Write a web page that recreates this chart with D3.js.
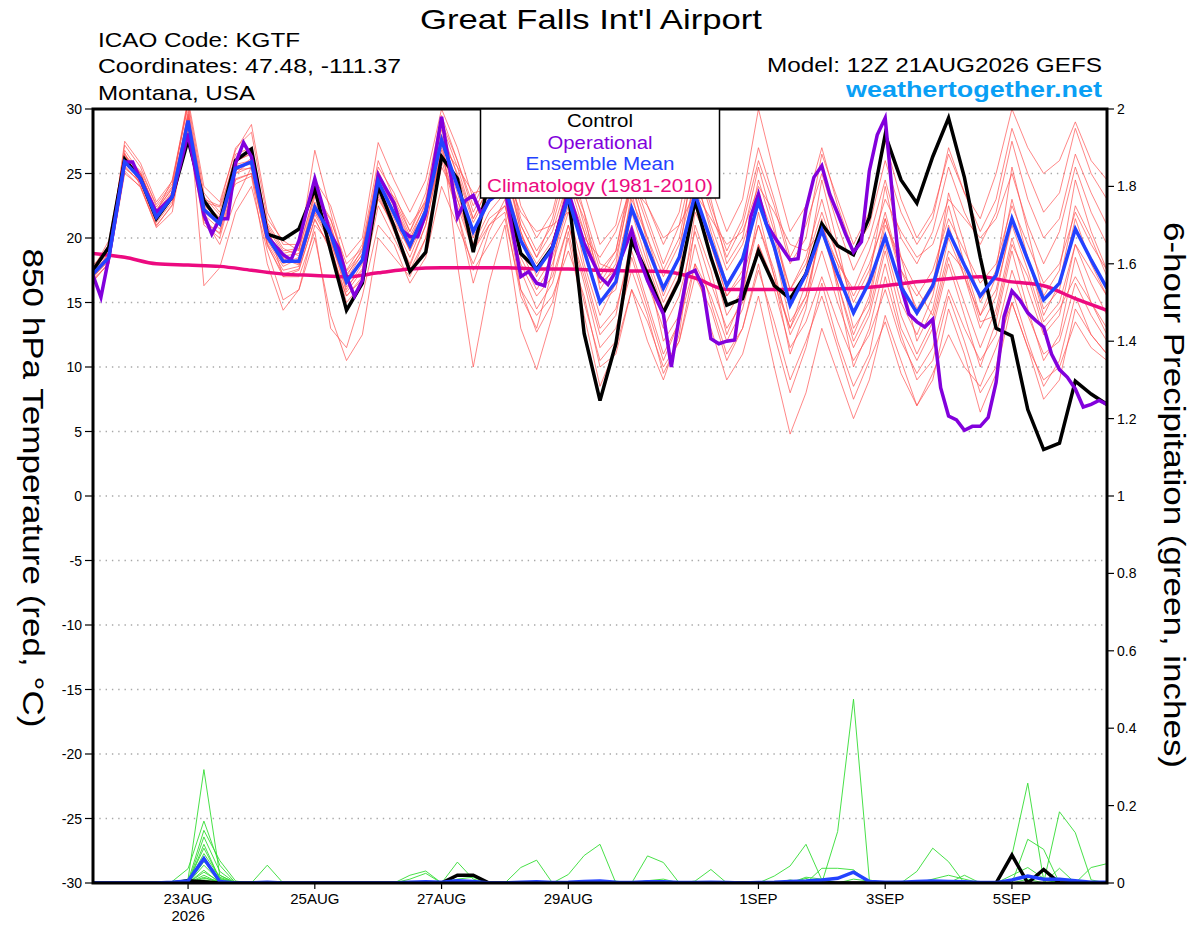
<!DOCTYPE html>
<meta charset="utf-8">
<style>
body { margin: 0; background: #fff; }
text { font-family: "Liberation Sans", Arial, Helvetica, sans-serif; }
.member { fill: none; stroke: #ff4d4d; stroke-width: 0.8px; stroke-opacity: 0.85; }
.pmember { fill: none; stroke: #33dd33; stroke-width: 0.9px; }
.grid { stroke: #a8a8a8; stroke-width: 1.3px; stroke-dasharray: 1.4,4.9; }
.thick { fill: none; stroke-width: 3.5px; stroke-linejoin: miter; }
</style>
<body>
<script src="https://d3js.org/d3.v7.min.js"></script>
<script>

// ---- data (6-hourly steps from 12Z 21AUG2026, 65 steps) ----
var runStart = Date.UTC(2026, 7, 21, 12);
var tickDates = [[2026,7,23],[2026,7,25],[2026,7,27],[2026,7,29],[2026,8,1],[2026,8,3],[2026,8,5]];
var tickLabels = ["23AUG", "25AUG", "27AUG", "29AUG", "1SEP", "3SEP", "5SEP"];
var tempTicks = [30, 25, 20, 15, 10, 5, 0, -5, -10, -15, -20, -25, -30];
var precipTicks = [0, 0.2, 0.4, 0.6, 0.8, 1, 1.2, 1.4, 1.6, 1.8, 2];

var controlTemp = [
  17.5, 19.3, 26.1, 24.6, 21.5, 23.2, 27.6, 22.9, 21.2, 26.0,
  26.9, 20.3, 19.9, 20.7, 23.8, 19.0, 14.4, 16.5, 24.0, 20.9,
  17.4, 18.9, 26.3, 24.6, 18.9, 24.5, 24.0, 18.8, 17.6, 19.3,
  23.5, 12.6, 7.4, 11.8, 19.8, 17.2, 14.2, 16.7, 22.9, 18.5,
  14.8, 15.3, 19.0, 16.3, 15.3, 17.2, 21.1, 19.4, 18.7, 21.6,
  28.0, 24.5, 22.7, 26.3, 29.3, 24.7, 18.5, 13.0, 12.4, 6.7,
  3.6, 4.1, 8.9, 7.9, 7.1];

var meanTemp = [
  17.2, 18.5, 25.9, 24.6, 21.6, 23.2, 29.1, 22.2, 21.1, 25.4,
  25.9, 20.1, 18.2, 18.2, 22.4, 20.3, 16.6, 18.3, 24.4, 21.9,
  19.4, 22.1, 27.6, 24.0, 20.5, 22.9, 24.0, 19.8, 17.5, 19.2,
  23.1, 19.0, 15.0, 16.6, 22.3, 19.2, 16.1, 18.5, 23.4, 19.8,
  16.3, 18.4, 22.8, 19.3, 14.8, 17.2, 20.6, 17.2, 14.2, 16.6,
  20.1, 16.2, 14.2, 16.3, 20.5, 17.9, 15.5, 17.1, 21.5, 18.3,
  15.2, 16.5, 20.7, 18.3, 16.1];

// operational run has 3-hourly output
var opHours = [
  0, 3, 6, 12, 15, 18, 24, 30, 36, 42, 45, 48, 51, 54, 57, 60, 66, 72, 75, 78,
  84, 90, 93, 96, 99, 102, 108, 114, 117, 120, 123, 126, 132, 138, 141, 144, 147, 150, 156, 162,
  165, 168, 171, 174, 180, 186, 192, 195, 198, 204, 207, 210, 216, 219, 222, 225, 228, 231, 234, 237,
  240, 243, 246, 249, 252, 255, 258, 261, 264, 267, 270, 273, 276, 279, 282, 285, 288, 291, 294, 297,
  300, 306, 309, 312, 315, 318, 321, 324, 327, 330, 333, 336, 339, 342, 345, 348, 351, 354, 357, 360,
  363, 366, 369, 372, 375, 378, 381, 384];
var opTemp = [
  17.1, 15.4, 18.5, 25.9, 25.9, 24.5, 22.0, 23.2, 28.1, 21.8, 20.3, 21.5, 21.5, 25.8, 27.4, 26.3, 20.1, 18.7, 18.3, 19.8,
  24.6, 20.3, 19.2, 17.0, 15.5, 16.7, 24.9, 22.7, 20.6, 20.1, 20.1, 21.9, 29.4, 21.6, 22.9, 23.3, 21.9, 22.9, 23.8, 17.0,
  17.4, 16.5, 16.3, 19.3, 23.6, 19.6, 17.0, 16.4, 17.4, 20.6, 18.4, 16.7, 14.1, 10.0, 13.9, 17.2, 17.5, 16.2, 12.2, 11.8,
  12.0, 12.1, 16.5, 21.6, 23.4, 21.1, 20.1, 19.2, 18.3, 18.4, 22.2, 24.7, 25.6, 23.4, 21.9, 20.3, 18.9, 19.7, 25.2, 28.0,
  29.3, 16.2, 14.1, 13.5, 13.1, 13.7, 8.4, 6.2, 5.9, 5.1, 5.4, 5.4, 6.1, 8.8, 13.9, 15.9, 15.2, 14.2, 13.6, 13.1,
  11.0, 9.8, 9.2, 8.3, 6.9, 7.1, 7.4, 7.1];

// climatology, 12-hourly
var climTemp = [
  18.8, 18.5, 18.0, 17.9, 17.8, 17.5, 17.2, 17.1, 17.0, 17.3,
  17.6, 17.7, 17.7, 17.7, 17.6, 17.6, 17.5, 17.45, 17.4, 16.9,
  16.0, 16.0, 16.0, 16.05, 16.1, 16.3, 16.6, 16.85, 17.0, 16.6,
  16.3, 15.3, 14.4];

var member01 = [
  17.8, 19.0, 27.2, 25.5, 22.4, 24.0, 30.5, 23.5, 22.0, 26.5,
  27.0, 21.0, 19.0, 19.2, 23.5, 21.5, 17.5, 19.5, 26.0, 23.0,
  20.5, 23.5, 29.5, 26.0, 22.0, 24.5, 26.5, 21.5, 19.0, 21.0,
  25.5, 21.0, 17.0, 19.0, 25.0, 21.5, 18.0, 21.0, 26.5, 22.5,
  19.0, 21.5, 27.0, 23.0, 18.5, 21.0, 25.0, 21.0, 17.5, 20.0,
  24.5, 20.0, 18.0, 20.5, 25.5, 22.0, 19.5, 22.0, 27.5, 23.0,
  20.0, 21.5, 26.5, 23.5, 21.0];
var member02 = [
  16.8, 18.0, 25.0, 24.0, 21.0, 22.5, 28.0, 21.0, 20.0, 24.5,
  25.0, 19.5, 17.0, 17.5, 21.5, 19.0, 15.5, 17.0, 23.5, 20.5,
  18.0, 21.0, 26.5, 22.5, 19.0, 21.0, 22.5, 18.0, 15.5, 17.0,
  21.0, 17.0, 12.5, 14.0, 20.0, 16.5, 13.0, 15.5, 20.5, 16.5,
  13.0, 15.0, 19.5, 16.0, 11.5, 13.5, 17.0, 13.5, 10.5, 12.5,
  16.0, 12.0, 9.5, 11.5, 16.0, 13.0, 10.5, 12.5, 17.5, 14.0,
  11.0, 12.0, 16.5, 14.0, 12.0];
var member03 = [
  17.5, 19.5, 26.5, 25.0, 22.0, 24.5, 30.5, 16.3, 17.7, 22.0,
  24.0, 19.0, 15.2, 16.0, 20.0, 14.0, 10.5, 12.5, 20.0, 18.5,
  17.0, 20.0, 25.5, 23.0, 19.5, 23.0, 25.5, 20.5, 17.0, 19.5,
  24.0, 18.0, 14.0, 16.5, 23.5, 18.5, 15.0, 17.5, 25.0, 20.5,
  16.5, 18.5, 24.5, 20.5, 16.0, 18.5, 23.0, 18.5, 15.0, 17.5,
  22.0, 17.5, 14.5, 16.5, 22.5, 18.0, 14.0, 17.0, 23.0, 18.5,
  14.5, 16.0, 21.5, 18.0, 15.5];
var member04 = [
  17.0, 18.2, 26.0, 24.8, 21.8, 23.5, 29.5, 22.5, 21.5, 25.0,
  26.0, 20.5, 18.5, 18.0, 22.5, 20.0, 16.0, 18.0, 25.0, 22.0,
  19.0, 21.5, 28.0, 18.0, 10.0, 16.5, 21.0, 13.0, 9.8, 14.0,
  20.5, 15.0, 10.5, 12.0, 18.5, 14.5, 10.5, 13.5, 19.5, 15.0,
  11.0, 13.0, 18.0, 12.5, 8.0, 11.5, 16.5, 12.0, 8.5, 11.0,
  17.0, 12.5, 9.0, 10.5, 15.5, 12.0, 8.0, 10.0, 16.0, 12.0,
  8.5, 10.5, 15.5, 12.5, 11.0];
var member05 = [
  17.6, 18.8, 26.3, 25.2, 22.6, 24.2, 30.8, 24.0, 22.8, 26.8,
  28.8, 22.0, 19.5, 19.5, 24.5, 22.5, 18.5, 20.0, 27.4, 24.5,
  22.0, 24.5, 30.0, 27.0, 23.0, 25.5, 28.0, 22.5, 20.0, 22.0,
  27.0, 23.5, 19.5, 21.0, 26.5, 22.5, 19.5, 22.0, 28.0, 24.0,
  20.5, 23.0, 30.0, 25.0, 20.5, 22.5, 27.0, 22.5, 19.0, 21.0,
  26.0, 22.0, 19.5, 21.5, 27.0, 23.5, 20.5, 23.0, 28.5, 25.0,
  22.0, 23.5, 28.5, 25.0, 23.0];
var member06 = [
  16.9, 18.4, 25.6, 24.2, 21.2, 22.8, 28.6, 21.8, 20.7, 25.0,
  25.5, 19.6, 17.5, 17.8, 22.0, 19.8, 15.8, 17.5, 23.0, 21.0,
  18.5, 21.5, 27.0, 23.5, 19.5, 22.0, 23.5, 18.5, 16.0, 18.0,
  22.0, 17.5, 13.0, 14.5, 19.0, 15.0, 11.0, 13.5, 18.0, 13.0,
  9.0, 11.0, 15.5, 10.0, 4.8, 8.0, 13.0, 9.5, 6.0, 9.0,
  14.0, 10.5, 7.0, 9.0, 14.5, 11.0, 6.5, 9.5, 15.0, 11.5,
  7.5, 9.0, 14.5, 12.5, 11.0];
var member07 = [
  17.3, 18.6, 26.0, 24.5, 21.4, 23.0, 29.3, 22.0, 21.0, 25.2,
  26.2, 20.0, 18.0, 18.5, 22.8, 20.5, 16.8, 18.8, 24.8, 22.4,
  19.8, 22.8, 28.4, 24.8, 21.2, 23.5, 24.5, 20.2, 18.0, 19.8,
  23.5, 20.5, 16.5, 17.5, 23.0, 20.0, 17.0, 19.5, 24.5, 21.0,
  17.5, 19.5, 23.5, 20.0, 16.0, 18.0, 22.0, 18.5, 15.5, 18.0,
  21.5, 17.5, 15.5, 17.5, 21.5, 19.0, 16.5, 18.0, 22.5, 19.5,
  16.5, 18.0, 22.0, 19.5, 17.5];
var member08 = [
  17.1, 18.3, 25.5, 24.3, 21.5, 23.4, 29.0, 22.6, 21.3, 25.6,
  25.7, 20.2, 18.4, 17.9, 22.0, 20.2, 16.2, 17.6, 24.0, 21.5,
  19.0, 22.5, 27.8, 24.2, 20.0, 23.0, 24.0, 19.0, 16.5, 18.5,
  22.5, 19.5, 15.0, 16.0, 22.0, 18.0, 14.5, 17.0, 22.5, 18.5,
  14.0, 16.0, 21.0, 17.5, 12.5, 15.0, 19.0, 15.0, 11.5, 14.0,
  19.0, 14.0, 11.0, 13.5, 18.5, 15.0, 11.5, 14.5, 20.0, 16.0,
  12.5, 14.0, 19.5, 16.5, 14.0];
var member09 = [
  17.4, 18.7, 26.2, 24.9, 21.9, 23.3, 29.8, 22.4, 21.0, 25.7,
  26.0, 20.4, 18.6, 18.8, 22.6, 20.8, 17.2, 18.7, 24.6, 22.8,
  20.2, 22.6, 28.0, 25.0, 21.5, 24.0, 25.5, 21.0, 18.5, 20.5,
  24.5, 21.5, 17.5, 19.0, 24.5, 21.0, 17.5, 20.0, 26.0, 22.0,
  18.5, 21.0, 26.0, 22.5, 18.0, 20.0, 26.5, 23.0, 19.5, 22.0,
  27.5, 23.0, 20.0, 22.0, 26.5, 23.5, 21.5, 25.0, 30.0, 27.0,
  25.0, 26.0, 29.0, 26.0, 24.5];
var member10 = [
  16.7, 18.0, 25.2, 23.9, 20.9, 22.6, 28.4, 21.4, 20.3, 24.6,
  25.0, 19.4, 17.2, 17.6, 21.4, 19.2, 15.5, 16.8, 23.2, 20.8,
  17.8, 21.0, 26.8, 23.0, 19.0, 21.5, 22.5, 17.5, 14.5, 16.5,
  21.0, 16.5, 11.5, 13.0, 17.5, 14.0, 9.5, 12.0, 17.0, 14.5,
  10.5, 13.0, 17.5, 13.5, 9.0, 12.0, 15.5, 11.5, 7.5, 10.5,
  13.5, 9.5, 7.0, 9.5, 12.5, 10.0, 8.5, 11.5, 15.0, 11.5,
  9.0, 10.0, 13.5, 11.5, 10.5];
var member11 = [
  17.3, 18.5, 27.5, 25.8, 22.8, 24.4, 30.2, 23.0, 22.5, 27.0,
  28.2, 21.5, 19.8, 19.0, 26.8, 22.0, 17.4, 19.0, 25.5, 23.5,
  20.5, 23.0, 29.0, 26.0, 22.5, 25.0, 27.0, 21.0, 18.5, 21.5,
  26.5, 22.0, 16.0, 18.0, 24.5, 19.5, 15.5, 18.5, 27.5, 23.0,
  18.0, 20.0, 25.5, 21.0, 15.0, 17.5, 24.5, 19.5, 14.0, 17.0,
  24.0, 18.5, 14.0, 16.0, 23.5, 19.5, 15.0, 17.5, 25.5, 20.5,
  15.5, 17.5, 24.5, 20.5, 17.5];
var member12 = [
  17.9, 19.2, 26.8, 25.0, 22.0, 23.6, 29.6, 23.2, 21.8, 24.2,
  24.8, 18.0, 14.4, 16.0, 21.0, 19.5, 15.0, 16.5, 22.5, 20.0,
  17.5, 20.0, 26.0, 22.0, 16.5, 20.5, 23.0, 16.0, 12.7, 15.0,
  20.0, 14.0, 8.5, 11.5, 16.0, 12.0, 9.0, 12.5, 21.0, 17.5,
  12.5, 15.5, 22.0, 17.0, 11.0, 14.5, 21.5, 16.0, 10.0, 13.0,
  18.0, 13.0, 10.5, 13.0, 18.0, 14.0, 10.0, 13.5, 19.0, 14.5,
  10.5, 12.5, 18.5, 15.0, 13.0];
var member13 = [
  17.6, 19.8, 26.6, 24.0, 20.8, 22.0, 29.0, 21.5, 19.5, 23.0,
  25.5, 21.0, 17.0, 17.0, 20.5, 13.0, 11.5, 15.5, 21.0, 19.5,
  16.5, 18.5, 24.0, 21.0, 18.0, 21.0, 22.0, 15.5, 13.0, 17.5,
  25.0, 22.0, 18.0, 17.5, 21.0, 17.5, 12.0, 14.0, 22.0, 19.5,
  15.5, 17.5, 23.0, 19.0, 13.5, 15.5, 21.0, 18.0, 13.0, 15.0,
  21.0, 18.5, 16.0, 14.0, 19.0, 17.5, 13.5, 14.0, 19.5, 17.0,
  13.0, 14.5, 17.0, 15.0, 12.5];
var member14 = [
  17.0, 18.9, 25.8, 25.0, 22.2, 23.8, 29.2, 22.8, 22.4, 26.0,
  26.5, 21.2, 19.2, 18.6, 23.2, 21.4, 18.0, 19.2, 24.2, 23.2,
  21.0, 22.8, 27.2, 25.5, 23.5, 23.8, 25.0, 22.0, 20.5, 21.0,
  22.0, 20.0, 18.5, 20.5, 24.0, 22.5, 20.0, 21.0, 23.5, 21.5,
  19.5, 20.5, 24.0, 22.0, 19.5, 19.0, 20.5, 18.0, 16.0, 19.0,
  23.0, 20.5, 18.5, 19.5, 23.0, 21.5, 20.0, 21.5, 25.0, 21.0,
  18.0, 20.5, 25.5, 22.0, 19.5];
var member15 = [
  16.6, 18.1, 25.4, 24.4, 21.6, 23.0, 28.8, 21.2, 20.4, 25.3,
  25.4, 19.8, 17.8, 18.4, 21.8, 19.6, 16.5, 18.2, 23.8, 21.2,
  19.2, 21.8, 26.5, 22.0, 17.5, 19.5, 21.5, 16.0, 14.0, 15.5,
  19.0, 15.5, 10.0, 11.0, 16.0, 13.5, 10.0, 12.0, 18.0, 15.5,
  12.0, 14.5, 19.5, 16.5, 13.0, 15.5, 20.5, 16.5, 12.5, 15.5,
  21.5, 17.0, 12.0, 14.5, 20.0, 17.0, 13.0, 15.5, 21.5, 18.5,
  14.0, 16.5, 22.5, 20.0, 17.0];
var member16 = [
  17.7, 19.1, 26.4, 25.0, 22.1, 23.9, 29.4, 22.7, 21.6, 25.9,
  26.6, 20.8, 18.8, 19.1, 23.4, 21.0, 17.0, 19.2, 25.2, 22.5,
  20.0, 22.0, 28.8, 25.5, 21.5, 24.0, 26.0, 20.5, 17.5, 19.5,
  24.5, 20.5, 16.5, 18.5, 24.0, 20.0, 16.0, 18.5, 23.0, 19.5,
  15.5, 17.0, 21.0, 17.0, 13.0, 16.5, 21.0, 16.5, 12.0, 14.5,
  19.5, 15.0, 12.5, 15.5, 21.0, 17.0, 14.0, 16.0, 21.0, 17.5,
  13.5, 15.0, 19.5, 17.5, 15.5];

// 6-hour precipitation (inches)
var controlPrecip = [
  0, 0, 0, 0, 0, 0, 0.006, 0.003, 0, 0,
  0, 0, 0, 0, 0, 0, 0, 0, 0, 0,
  0, 0, 0, 0.02, 0.02, 0, 0, 0, 0, 0,
  0, 0, 0, 0, 0, 0, 0, 0, 0, 0,
  0, 0, 0, 0, 0, 0, 0, 0, 0, 0,
  0, 0, 0, 0, 0, 0, 0, 0, 0.072, 0,
  0.035, 0, 0, 0, 0];
var meanPrecip = [
  0, 0, 0, 0, 0, 0.002, 0.005, 0.063, 0.004, 0,
  0, 0.002, 0, 0, 0, 0, 0, 0, 0, 0,
  0.002, 0.003, 0.002, 0.006, 0.004, 0, 0, 0.002, 0.003, 0.001,
  0.002, 0.004, 0.005, 0.002, 0.001, 0.003, 0.003, 0.001, 0.001, 0.002,
  0.001, 0, 0.001, 0.002, 0.004, 0.005, 0.008, 0.012, 0.028, 0.004,
  0.002, 0.002, 0.004, 0.005, 0.004, 0.003, 0.001, 0.001, 0.008, 0.018,
  0.01, 0.01, 0.006, 0.002, 0.002];
var precip01 = [
  0, 0, 0, 0, 0, 0, 0.01, 0.293, 0.02, 0,
  0, 0, 0, 0, 0, 0, 0, 0, 0, 0,
  0, 0, 0, 0, 0, 0, 0, 0, 0, 0,
  0, 0, 0, 0, 0, 0, 0, 0, 0, 0,
  0, 0, 0, 0, 0, 0, 0, 0, 0, 0,
  0, 0, 0, 0, 0, 0, 0, 0, 0, 0,
  0, 0, 0, 0, 0];
var precip02 = [
  0, 0, 0, 0, 0, 0.004, 0.037, 0.16, 0.046, 0,
  0, 0.046, 0, 0, 0, 0, 0, 0, 0, 0,
  0, 0, 0, 0, 0, 0, 0, 0, 0, 0,
  0, 0, 0, 0, 0, 0, 0, 0, 0, 0,
  0, 0, 0, 0, 0, 0, 0, 0, 0, 0,
  0, 0, 0, 0, 0, 0, 0, 0, 0, 0,
  0, 0, 0, 0, 0];
var precip03 = [
  0, 0, 0, 0, 0, 0, 0.005, 0.136, 0.058, 0.005,
  0, 0, 0, 0, 0, 0, 0, 0, 0, 0,
  0, 0, 0, 0, 0, 0, 0, 0.04, 0.059, 0,
  0, 0, 0, 0, 0, 0, 0, 0, 0, 0,
  0, 0, 0, 0, 0, 0, 0, 0, 0, 0,
  0, 0, 0, 0, 0, 0, 0, 0, 0, 0,
  0, 0, 0, 0, 0];
var precip04 = [
  0, 0, 0, 0, 0, 0, 0, 0.119, 0.03, 0,
  0, 0, 0, 0, 0, 0, 0, 0, 0, 0,
  0.02, 0.031, 0, 0, 0, 0, 0, 0, 0, 0,
  0.022, 0.071, 0.1, 0, 0, 0, 0, 0, 0, 0,
  0, 0, 0, 0, 0, 0, 0, 0, 0, 0,
  0, 0, 0, 0, 0, 0, 0, 0, 0, 0,
  0, 0, 0, 0, 0];
var precip05 = [
  0, 0, 0, 0, 0, 0, 0, 0.1, 0.01, 0,
  0, 0, 0, 0, 0, 0, 0, 0, 0, 0,
  0, 0, 0, 0, 0, 0, 0, 0, 0, 0,
  0, 0, 0, 0, 0, 0.07, 0.053, 0, 0.005, 0.035,
  0, 0, 0, 0, 0, 0, 0, 0, 0, 0,
  0, 0, 0, 0, 0, 0, 0, 0, 0, 0,
  0, 0, 0, 0, 0];
var precip06 = [
  0, 0, 0, 0, 0, 0, 0, 0.076, 0.015, 0,
  0, 0, 0, 0, 0, 0, 0, 0, 0, 0,
  0, 0, 0, 0.054, 0.01, 0, 0, 0, 0, 0,
  0, 0, 0, 0, 0, 0, 0, 0, 0, 0,
  0, 0, 0, 0.018, 0.044, 0.1, 0.008, 0, 0, 0,
  0, 0, 0, 0, 0, 0, 0, 0, 0, 0,
  0, 0, 0, 0, 0];
var precip07 = [
  0, 0, 0, 0, 0, 0, 0, 0.067, 0, 0,
  0, 0, 0, 0, 0, 0, 0, 0, 0, 0,
  0.01, 0.025, 0, 0, 0, 0, 0, 0, 0, 0,
  0, 0, 0, 0, 0, 0, 0, 0, 0, 0,
  0, 0, 0, 0, 0, 0, 0, 0.133, 0.475, 0.008,
  0, 0, 0, 0, 0, 0, 0, 0, 0, 0,
  0, 0, 0, 0, 0];
var precip08 = [
  0, 0, 0, 0, 0, 0, 0, 0.046, 0.005, 0,
  0, 0, 0, 0, 0, 0, 0, 0, 0, 0,
  0, 0, 0, 0, 0, 0, 0, 0, 0, 0,
  0, 0, 0, 0, 0, 0, 0, 0, 0, 0,
  0, 0, 0, 0, 0, 0, 0.038, 0.038, 0.034, 0,
  0, 0, 0, 0, 0, 0, 0, 0, 0.072, 0.258,
  0.008, 0, 0, 0, 0];
var precip09 = [
  0, 0, 0, 0, 0, 0, 0, 0.033, 0, 0,
  0, 0, 0, 0, 0, 0, 0, 0, 0, 0,
  0, 0, 0, 0, 0, 0, 0, 0, 0, 0,
  0, 0, 0, 0, 0, 0, 0, 0, 0, 0,
  0, 0, 0, 0, 0, 0, 0, 0, 0, 0,
  0, 0, 0.03, 0.09, 0.055, 0, 0, 0, 0, 0.113,
  0.087, 0, 0, 0, 0];
var precip10 = [
  0, 0, 0, 0, 0, 0, 0, 0.02, 0, 0,
  0, 0, 0, 0, 0, 0, 0, 0, 0, 0,
  0, 0, 0, 0, 0, 0, 0, 0, 0, 0,
  0, 0, 0, 0, 0, 0, 0, 0, 0, 0,
  0, 0, 0, 0, 0, 0, 0, 0, 0, 0,
  0, 0, 0, 0, 0, 0.02, 0, 0, 0, 0,
  0, 0.184, 0.13, 0.008, 0];
var precip11 = [
  0, 0, 0, 0, 0, 0, 0, 0.012, 0.005, 0,
  0, 0, 0, 0, 0, 0, 0, 0, 0, 0,
  0, 0, 0, 0, 0, 0, 0, 0, 0, 0,
  0, 0, 0, 0, 0, 0, 0, 0, 0, 0,
  0, 0, 0, 0, 0, 0.012, 0, 0, 0, 0,
  0, 0, 0, 0, 0, 0, 0, 0, 0, 0,
  0, 0.038, 0, 0.04, 0.05];
var precip12 = [
  0, 0, 0, 0, 0, 0, 0, 0.008, 0, 0,
  0, 0, 0, 0, 0, 0, 0, 0, 0, 0,
  0, 0, 0, 0.01, 0.015, 0, 0, 0, 0, 0,
  0, 0, 0, 0.005, 0, 0, 0, 0, 0, 0,
  0, 0, 0, 0, 0, 0.015, 0.01, 0, 0, 0,
  0, 0, 0, 0, 0, 0, 0, 0, 0, 0,
  0, 0, 0, 0, 0];
var precip13 = [
  0, 0, 0, 0, 0, 0, 0.003, 0.09, 0.012, 0,
  0, 0, 0, 0, 0, 0, 0, 0, 0, 0,
  0, 0, 0, 0, 0, 0, 0, 0, 0, 0,
  0, 0, 0, 0, 0, 0, 0, 0, 0, 0,
  0, 0, 0, 0, 0, 0, 0, 0, 0.01, 0.005,
  0, 0, 0, 0, 0, 0, 0, 0, 0, 0,
  0, 0, 0, 0, 0];
var precip14 = [
  0, 0, 0, 0, 0, 0, 0, 0.055, 0.02, 0,
  0, 0, 0, 0, 0, 0, 0, 0, 0, 0,
  0, 0, 0, 0, 0, 0, 0, 0, 0, 0,
  0, 0, 0, 0, 0, 0.006, 0.01, 0, 0, 0,
  0, 0, 0, 0, 0, 0, 0, 0, 0, 0,
  0, 0, 0, 0, 0, 0, 0, 0, 0, 0.01,
  0, 0, 0, 0, 0];
var precip15 = [
  0, 0, 0, 0, 0, 0, 0, 0.028, 0.004, 0,
  0, 0, 0, 0, 0, 0, 0, 0, 0, 0,
  0, 0, 0, 0, 0, 0, 0, 0, 0, 0,
  0, 0, 0, 0, 0, 0, 0, 0, 0, 0,
  0, 0, 0, 0, 0.008, 0, 0, 0, 0, 0,
  0, 0, 0, 0.01, 0.02, 0.01, 0, 0, 0, 0,
  0, 0, 0, 0, 0];
var precip16 = [
  0, 0, 0, 0, 0, 0, 0, 0.015, 0, 0,
  0, 0, 0, 0, 0, 0, 0, 0, 0, 0,
  0, 0, 0.004, 0.008, 0, 0, 0, 0, 0, 0,
  0, 0, 0, 0, 0, 0, 0, 0, 0, 0,
  0, 0, 0, 0, 0, 0, 0, 0, 0, 0,
  0, 0, 0, 0, 0, 0, 0, 0, 0.02, 0.04,
  0.012, 0, 0, 0, 0];

var members = [member01, member02, member03, member04, member05, member06,
               member07, member08, member09, member10, member11, member12,
               member13, member14, member15, member16];
var memberPrecip = [precip01, precip02, precip03, precip04, precip05, precip06,
                    precip07, precip08, precip09, precip10, precip11, precip12,
                    precip13, precip14, precip15, precip16];

// ---- layout ----
var W = 1200, H = 927;
var plot = {left: 93, right: 1107, top: 109, bottom: 883};

var x = d3.scaleLinear().domain([0, 384]).range([plot.left, plot.right]);
var y = d3.scaleLinear().domain([-30, 30]).range([plot.bottom, plot.top]);
var yp = d3.scaleLinear().domain([0, 2]).range([plot.bottom, plot.top]);

var svg = d3.select("body").append("svg")
    .attr("width", W)
    .attr("height", H);

// stretch text to the width the original plotting font uses
function fit(sel, w) {
  sel.attr("textLength", w).attr("lengthAdjust", "spacingAndGlyphs");
  return sel;
}

svg.append("clipPath").attr("id", "plotclip")
  .append("rect")
    .attr("x", plot.left).attr("y", plot.top)
    .attr("width", plot.right - plot.left).attr("height", plot.bottom - plot.top);

// dotted grid at every temperature tick
svg.append("g").selectAll("line")
    .data(tempTicks.filter(function(t) { return t > -30 && t < 30; }))
  .enter().append("line")
    .attr("class", "grid")
    .attr("x1", plot.left).attr("x2", plot.right)
    .attr("y1", function(d) { return y(d); })
    .attr("y2", function(d) { return y(d); });

var stepLine = d3.line()
    .x(function(d, i) { return x(i * 6); })
    .y(function(d) { return y(d); });
var precipLine = d3.line()
    .x(function(d, i) { return x(i * 6); })
    .y(function(d) { return yp(d); });

var g = svg.append("g").attr("clip-path", "url(#plotclip)");

// ensemble members (temperature)
g.selectAll(".member").data(members)
  .enter().append("path")
    .attr("class", "member")
    .attr("d", stepLine);

// ensemble members (precip)
g.selectAll(".pmember").data(memberPrecip)
  .enter().append("path")
    .attr("class", "pmember")
    .attr("d", precipLine);

// climatology
g.append("path").datum(climTemp)
    .attr("class", "thick")
    .attr("stroke", "#ec0a80")
    .attr("d", d3.line()
      .x(function(d, i) { return x(i * 12); })
      .y(function(d) { return y(d); })
      .curve(d3.curveMonotoneX));

// control
g.append("path").datum(controlTemp)
    .attr("class", "thick").attr("stroke", "#000")
    .attr("d", stepLine);
g.append("path").datum(controlPrecip)
    .attr("class", "thick").attr("stroke", "#000")
    .attr("d", precipLine);

// operational
g.append("path").datum(opTemp)
    .attr("class", "thick").attr("stroke", "#8200dc")
    .attr("d", d3.line()
      .x(function(d, i) { return x(opHours[i]); })
      .y(function(d) { return y(d); }));

// ensemble mean
g.append("path").datum(meanTemp)
    .attr("class", "thick").attr("stroke", "#2342ff")
    .attr("d", stepLine);
g.append("path").datum(meanPrecip)
    .attr("class", "thick").attr("stroke", "#2342ff")
    .attr("d", precipLine);

// frame
svg.append("rect")
    .attr("x", plot.left).attr("y", plot.top)
    .attr("width", plot.right - plot.left).attr("height", plot.bottom - plot.top)
    .attr("fill", "none").attr("stroke", "#000").attr("stroke-width", 3);

// left axis
var leftAxis = svg.append("g");
leftAxis.selectAll("line").data(tempTicks).enter().append("line")
    .attr("x1", plot.left - 8).attr("x2", plot.left)
    .attr("y1", function(d) { return y(d); }).attr("y2", function(d) { return y(d); })
    .attr("stroke", "#000").attr("stroke-width", 1.2);
leftAxis.selectAll("text").data(tempTicks).enter().append("text")
    .attr("x", plot.left - 11)
    .attr("y", function(d) { return y(d); })
    .attr("dy", "0.36em")
    .attr("text-anchor", "end")
    .attr("font-size", "14px")
    .text(function(d) { return d; });

// right axis
var rightAxis = svg.append("g");
rightAxis.selectAll("line").data(precipTicks).enter().append("line")
    .attr("x1", plot.right).attr("x2", plot.right + 7)
    .attr("y1", function(d) { return yp(d); }).attr("y2", function(d) { return yp(d); })
    .attr("stroke", "#000").attr("stroke-width", 1.2);
rightAxis.selectAll("text").data(precipTicks).enter().append("text")
    .attr("x", plot.right + 10)
    .attr("y", function(d) { return yp(d); })
    .attr("dy", "0.36em")
    .attr("font-size", "14px")
    .text(function(d) { return d; });

// bottom axis
var tickHours = tickDates.map(function(d) {
  return (Date.UTC(d[0], d[1], d[2]) - runStart) / 3600000;
});
var bottomAxis = svg.append("g");
bottomAxis.selectAll("line").data(tickHours).enter().append("line")
    .attr("x1", function(d) { return x(d); }).attr("x2", function(d) { return x(d); })
    .attr("y1", plot.bottom).attr("y2", plot.bottom + 6)
    .attr("stroke", "#000").attr("stroke-width", 1.2);
bottomAxis.selectAll("text").data(tickHours).enter().append("text")
    .attr("x", function(d) { return x(d); })
    .attr("y", 904)
    .attr("text-anchor", "middle")
    .attr("font-size", "15px")
    .text(function(d, i) { return tickLabels[i]; });
bottomAxis.append("text")
    .attr("x", x(tickHours[0])).attr("y", 921)
    .attr("text-anchor", "middle")
    .attr("font-size", "15px")
    .text("2026");

// axis titles
fit(svg.append("text")
    .attr("transform", "translate(33,488) rotate(90)")
    .attr("dy", "0.35em")
    .attr("text-anchor", "middle")
    .attr("font-size", "30px")
    .text("850 hPa Temperature (red, \u00B0C)"), 479);
fit(svg.append("text")
    .attr("transform", "translate(1174,495) rotate(90)")
    .attr("dy", "0.35em")
    .attr("text-anchor", "middle")
    .attr("font-size", "30px")
    .text("6-hour Precipitation (green, inches)"), 546);

// header
fit(svg.append("text").attr("x", 591).attr("y", 29)
    .attr("text-anchor", "middle").attr("font-size", "28px")
    .text("Great Falls Int'l Airport"), 342);
fit(svg.append("text").attr("x", 98).attr("y", 47).attr("font-size", "21px")
    .text("ICAO Code: KGTF"), 202);
fit(svg.append("text").attr("x", 98).attr("y", 73).attr("font-size", "21px")
    .text("Coordinates: 47.48, -111.37"), 303);
fit(svg.append("text").attr("x", 98).attr("y", 100).attr("font-size", "21px")
    .text("Montana, USA"), 157);
fit(svg.append("text").attr("x", 1102).attr("y", 72).attr("text-anchor", "end")
    .attr("font-size", "21px")
    .text("Model: 12Z 21AUG2026 GEFS"), 335);
fit(svg.append("text").attr("x", 1102).attr("y", 97).attr("text-anchor", "end")
    .attr("font-size", "22px").attr("font-weight", "bold").attr("fill", "#0a9ff5")
    .text("weathertogether.net"), 256);

// legend
var legendItems = [
  {label: "Control", color: "#000", w: 66},
  {label: "Operational", color: "#8200dc", w: 105},
  {label: "Ensemble Mean", color: "#2342ff", w: 149},
  {label: "Climatology (1981-2010)", color: "#ec0a80", w: 226}
];
var legend = svg.append("g");
legend.append("rect")
    .attr("x", 480.5).attr("y", plot.top).attr("width", 239).attr("height", 89)
    .attr("fill", "#fff").attr("stroke", "#000").attr("stroke-width", 1.5);
legend.selectAll("text").data(legendItems).enter().append("text")
    .attr("x", 600)
    .attr("y", function(d, i) { return 127 + i * 21.6; })
    .attr("text-anchor", "middle")
    .attr("font-size", "17.5px")
    .attr("fill", function(d) { return d.color; })
    .attr("textLength", function(d) { return d.w; })
    .attr("lengthAdjust", "spacingAndGlyphs")
    .text(function(d) { return d.label; });

</script>
</body>
